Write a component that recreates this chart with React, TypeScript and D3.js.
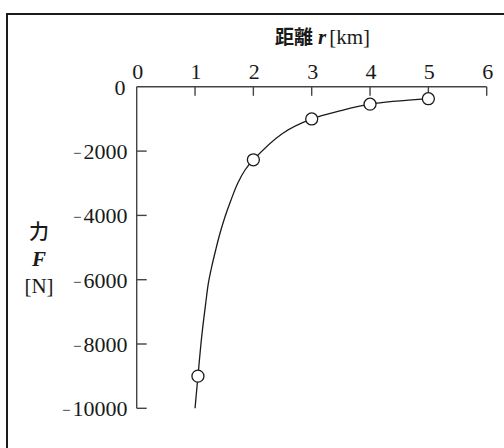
import React from "react";
import * as d3 from "d3";

const xTicks = [0, 1, 2, 3, 4, 5, 6];
const yTicks = [0, -2000, -4000, -6000, -8000, -10000];
const pointR = [1.05, 2, 3, 4, 5];
const pointF = [-9000, -2270, -1000, -540, -370];
const curveR = [1.0, 1.05, 1.114, 1.183, 1.228, 1.286, 1.354, 1.428, 1.514, 1.617, 1.732, 1.857, 2, 2.5, 3, 3.5, 4, 5];
const curveF = [-10000, -9000, -7773, -6734, -6111, -5595, -5076, -4556, -4040, -3520, -3001, -2588, -2270, -1450, -1000, -740, -540, -370];

const W = 504;
const H = 448;

export default function App() {
  const x = d3.scaleLinear().domain([0, 6]).range([136.7, 486.7]);
  const y = d3.scaleLinear().domain([-10000, 0]).range([408.3, 86.8]);
  const curvePts: [number, number][] = curveR.map((r, i) => [r, curveF[i]]);
  const line = d3
    .line<[number, number]>()
    .x((d) => x(d[0]))
    .y((d) => y(d[1]))
    .curve(d3.curveCatmullRom.alpha(0.5));
  const serif = "Liberation Serif, DejaVu Serif, serif";
  const ink = "#1a1a1a";
  const axisCol = "#444";
  const fs = 22;
  return (
    <svg
      width={W}
      height={H}
      style={{ position: "absolute", left: 0, top: 0, background: "#fff" }}
    >
      <rect x={7} y={14} width={520} height={460} fill="none" stroke={ink} strokeWidth={2} />
      {/* title */}
      <text x={275} y={44} fontFamily="Noto Sans CJK JP, sans-serif" fontSize={19} fontWeight={700} fill={ink}>
        距離
        <tspan style={{ fontFamily: serif }} fontStyle="italic" fontWeight="bold" dx={5} fontSize={21}>r</tspan>
        <tspan style={{ fontFamily: serif }} fontWeight="normal" dx={3} fontSize={21}>[km]</tspan>
      </text>
      {/* x axis */}
      <line x1={x(0)} x2={x(6)} y1={y(0)} y2={y(0)} stroke={axisCol} strokeWidth={1.4} />
      {xTicks.map((t) => (
        <g key={"xt" + t}>
          {t > 0 && (
            <line x1={x(t)} x2={x(t)} y1={y(0)} y2={y(0) + 9} stroke={axisCol} strokeWidth={1.4} />
          )}
          <text x={x(t) + 1} y={79} textAnchor="middle" style={{ fontFamily: serif }} fontSize={fs} fill={ink}>
            {t}
          </text>
        </g>
      ))}
      {/* y axis */}
      <line x1={x(0)} x2={x(0)} y1={y(0)} y2={y(-10000)} stroke={axisCol} strokeWidth={1.4} />
      {yTicks.map((t) => (
        <g key={"yt" + t}>
          {t < 0 && (
            <line x1={x(0)} x2={x(0) + 10} y1={y(t)} y2={y(t)} stroke={axisCol} strokeWidth={1.4} />
          )}
          {t === 0 ? (
            <text x={125.5} y={y(t) + 8} textAnchor="end" style={{ fontFamily: serif }} fontSize={fs} fill={ink}>
              0
            </text>
          ) : (
            <text x={127.5} y={y(t) + 8} textAnchor="end" style={{ fontFamily: serif }} fontSize={fs} fill={ink}>
              <tspan fontSize={15} dy={-1}>−</tspan>
              <tspan dx={2} dy={1}>{Math.abs(t)}</tspan>
            </text>
          )}
        </g>
      ))}
      {/* y label */}
      <text x={39} y={239} textAnchor="middle" fontFamily="Noto Sans CJK JP, sans-serif" fontSize={20} fontWeight={500} fill={ink}>
        力
      </text>
      <text x={39} y={266} textAnchor="middle" style={{ fontFamily: serif }} fontStyle="italic" fontWeight="bold" fontSize={21} fill={ink}>
        F
      </text>
      <text x={39} y={293} textAnchor="middle" style={{ fontFamily: serif }} fontSize={21} fill={ink}>
        [N]
      </text>
      {/* curve */}
      <path d={line(curvePts) || ""} fill="none" stroke={ink} strokeWidth={1.3} />
      {pointR.map((r, i) => (
        <circle key={"p" + i} cx={x(r)} cy={y(pointF[i])} r={6} fill="#fff" stroke={ink} strokeWidth={1.3} />
      ))}
    </svg>
  );
}
